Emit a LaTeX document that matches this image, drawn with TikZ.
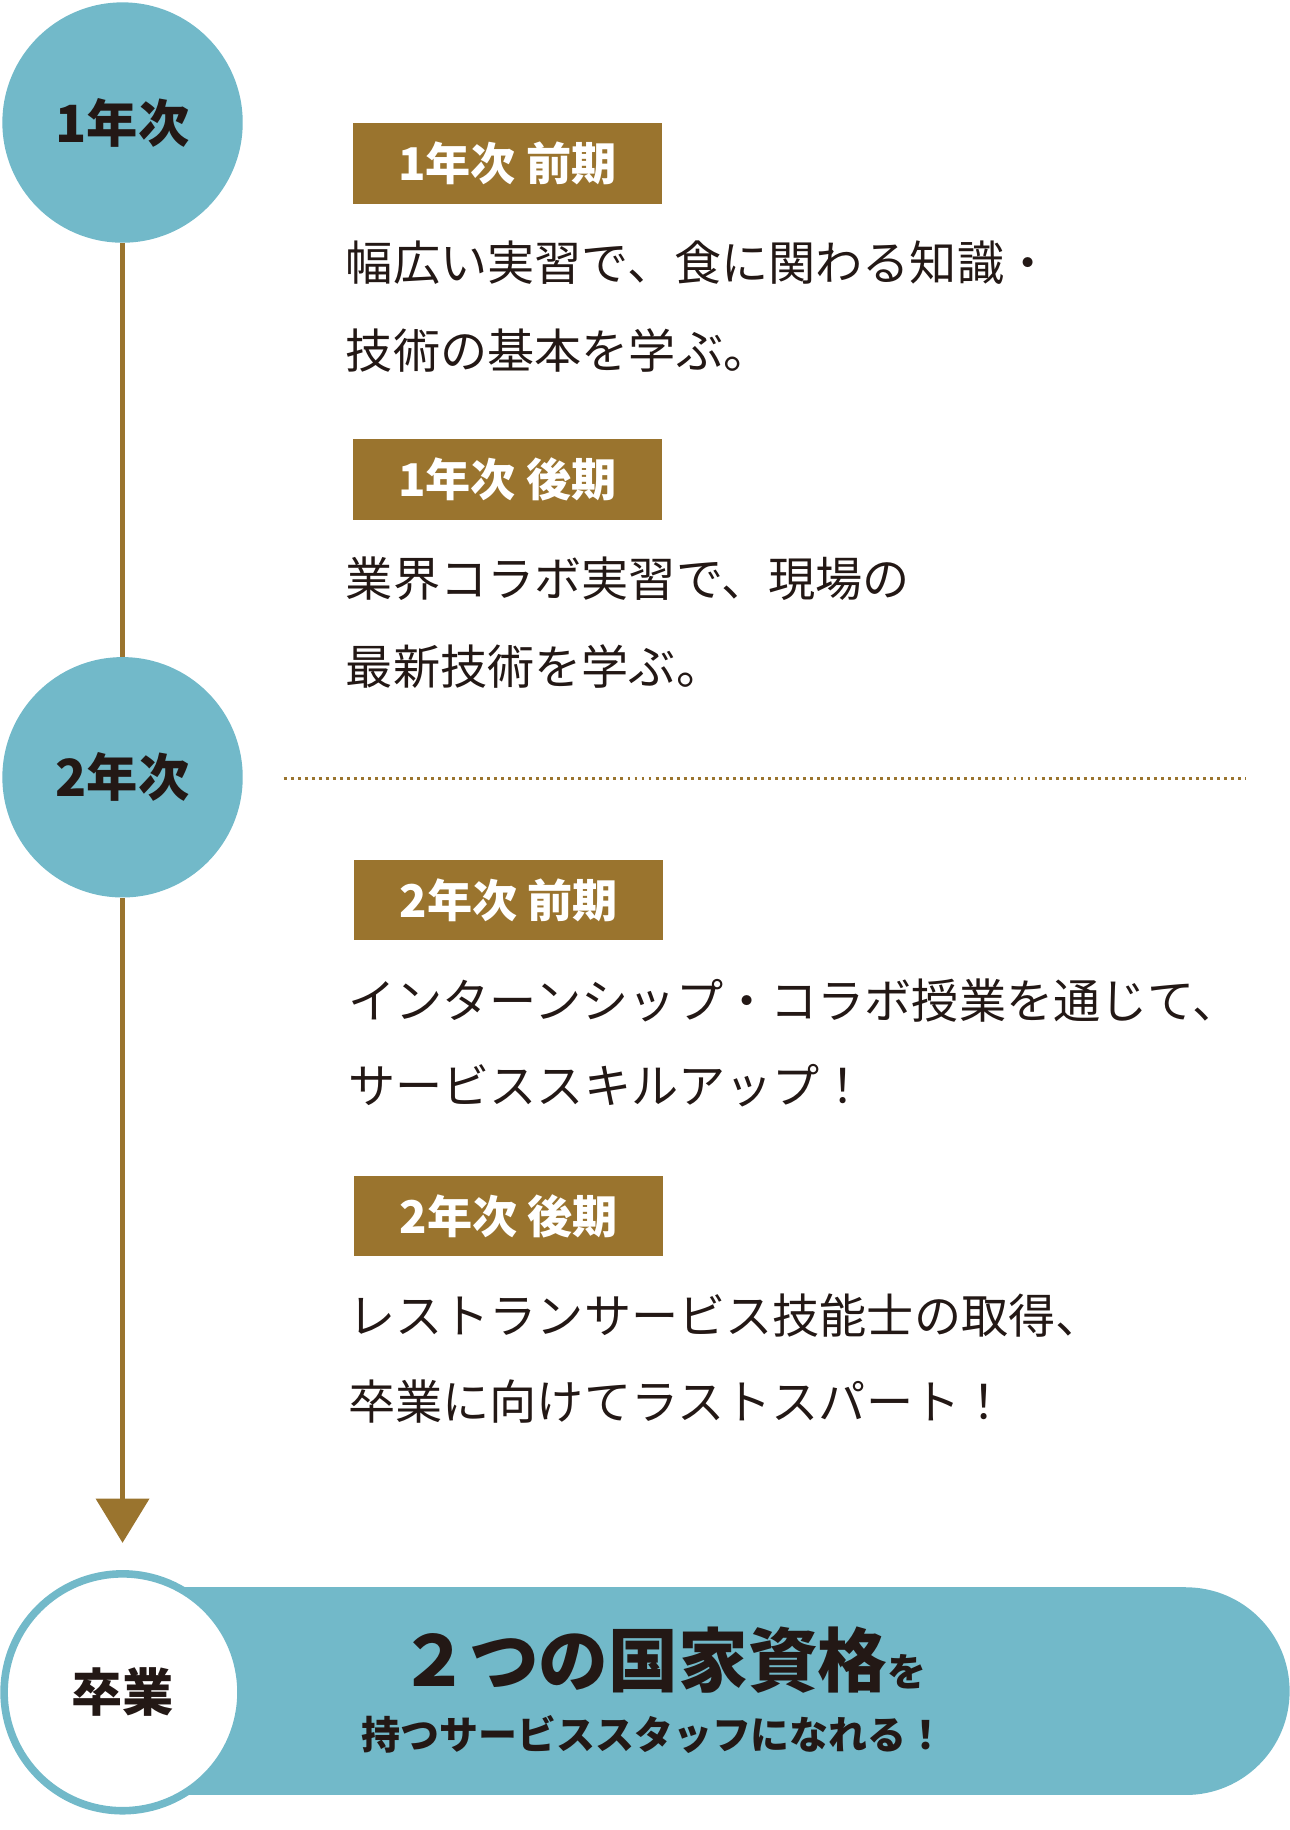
\documentclass[tikz,border=0pt]{standalone}
\usepackage{fontspec}
\setmainfont{Noto Sans CJK JP}
\usetikzlibrary{arrows.meta,positioning}
\definecolor{teal}{HTML}{72B9C9}
\definecolor{brn}{HTML}{9A742E}
\definecolor{ink}{HTML}{231815}
\tikzset{
  year/.style={circle,fill=teal,minimum size=4.12cm,inner sep=0pt,text=ink,font=\fontsize{25}{25}\selectfont\bfseries},
  term/.style={fill=brn,text=white,anchor=west,minimum width=5.3cm,minimum height=1.38cm,inner sep=0pt,font=\fontsize{22}{22}\selectfont\bfseries},
  body/.style={anchor=west,inner sep=0pt,text=ink,font=\fontsize{23}{23}\selectfont}
}
\begin{document}
\begin{tikzpicture}[x=0.02cm,y=-0.02cm]
\useasboundingbox (0,0) rectangle (1105,1568);
% year circles
\node[year] (y1) at (105,105) {1年次};
\node[year] (y2) at (105,666) {2年次};
\coordinate (tip) at (105,1322);
\draw[brn,line width=0.1cm] (y1.south) -- (y2.north);
\draw[brn,line width=0.1cm,-{Triangle[width=0.9cm,length=0.76cm]}] (y2.south) -- (tip);
% separator
\coordinate (d1) at (243,667);
\coordinate (d2) at (1068,667);
\draw[brn,line width=0.05cm,dotted] (d1) -- (d2);
% terms
\node[term] (t1) at (302,140) {1年次 前期};
\node[body] (b1a) at (296,225) {幅広い実習で、食に関わる知識・};
\node[body] (b1b) at (296,300) {技術の基本を学ぶ。};
\node[term] (t2) at (302,411) {1年次 後期};
\node[body] (b2a) at (296,496) {業界コラボ実習で、現場の};
\node[body] (b2b) at (296,571) {最新技術を学ぶ。};
\node[term] (t3) at (303,771) {2年次 前期};
\node[body] (b3a) at (298,857) {インターンシップ・コラボ授業を通じて、};
\node[body] (b3b) at (298,930) {サービススキルアップ！};
\node[term] (t4) at (303,1042) {2年次 後期};
\node[body] (b4a) at (298,1127) {レストランサービス技能士の取得、};
\node[body] (b4b) at (298,1201) {卒業に向けてラストスパート！};
% graduation
\fill[teal] (150,1360) rectangle (1016,1538);
\fill[teal] (1016,1449) circle (1.78cm);
\node[circle,fill=white,draw=teal,line width=0.13cm,minimum size=4.06cm,inner sep=0pt,text=ink,font=\fontsize{25}{25}\selectfont\bfseries] (gr) at (105,1450) {卒業};
\node[text=ink,inner sep=0pt] (g1) at (568,1422) {\fontsize{34}{34}\selectfont\bfseries ２つの国家資格\fontsize{19}{19}\selectfont を};
\node[text=ink,inner sep=0pt,font=\fontsize{19}{19}\selectfont\bfseries] (g2) at (560,1486) {持つサービススタッフになれる！};
\end{tikzpicture}
\end{document}
